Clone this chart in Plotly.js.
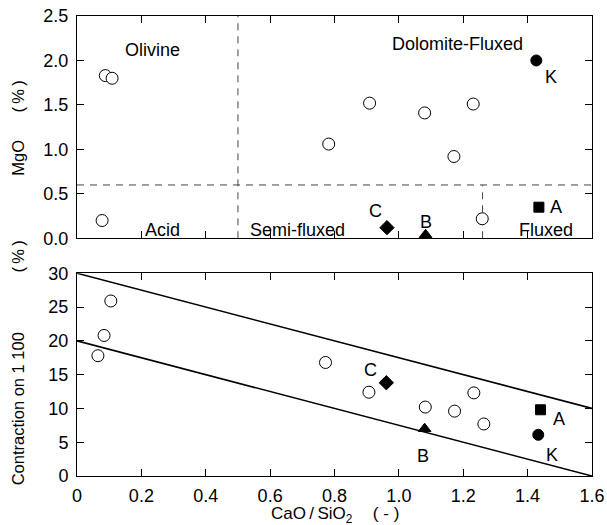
<!DOCTYPE html>
<html><head><meta charset="utf-8">
<script src="https://cdn.plot.ly/plotly-3.0.1.min.js"></script>
<style>html,body{margin:0;padding:0;background:#fff}</style>
</head><body><div id="chart" style="width:607px;height:525px"></div>
<script>
// ---- Top panel: MgO (%) vs CaO/SiO2 ----
const topOpenX = [0.078, 0.088, 0.109, 0.782, 0.909, 1.080, 1.171, 1.231, 1.259];
const topOpenY = [0.20, 1.83, 1.80, 1.06, 1.52, 1.41, 0.92, 1.51, 0.22];
const sampleNames = ['A', 'B', 'C', 'K'];
const topSampleX = [1.435, 1.083, 0.963, 1.427];
const topSampleY = [0.35, 0.04, 0.12, 2.00];

// boundary dashed lines (region limits)
const vDash1X = [0.5, 0.5],   vDash1Y = [0, 2.5];
const hDashX = [0, 1.6],      hDashY = [0.6, 0.6];
const vDash2X = [1.26, 1.26], vDash2Y = [0, 0.6];

const regionNames = ['Olivine', 'Dolomite-Fluxed', 'Acid', 'Semi-fluxed', 'Fluxed'];
const regionX = [0.235, 1.181, 0.266, 0.686, 1.457];
const regionY = [2.12, 2.18, 0.094, 0.094, 0.094];

// ---- Bottom panel: Contraction on 1 100 (%) vs CaO/SiO2 ----
const botOpenX = [0.065, 0.084, 0.105, 0.772, 0.907, 1.082, 1.173, 1.233, 1.264];
const botOpenY = [17.8, 20.8, 25.9, 16.8, 12.4, 10.2, 9.6, 12.3, 7.7];
const botSampleX = [1.440, 1.080, 0.961, 1.433];
const botSampleY = [9.8, 7.0, 13.8, 6.1];

const bandX = [0, 1.6];
const bandUpperY = [30, 10];
const bandLowerY = [20, 0];

const xTickVals = [0, 0.2, 0.4, 0.6, 0.8, 1.0, 1.2, 1.4, 1.6];
const xTickText = ['0', '0.2', '0.4', '0.6', '0.8', '1.0', '1.2', '1.4', '1.6'];

// ---- styles ----
const FONT = '"Liberation Sans", Arial, Helvetica, sans-serif';
const NB = '\u00a0';
const sampleSymbols = ['square', 'triangle-up', 'diamond', 'circle'];
const sampleSizes = [10, 11, 11, 11];
const topLabelShift = [[17, 0], [0, 13], [-11, 17], [15, -17]];
const botLabelShift = [[18, -9], [-2, -27], [-16, 13], [14, -20]];

const dashLine = {color: '#444', width: 1, dash: '7px,6px'};
const filledMarker = {symbol: sampleSymbols, size: sampleSizes, color: '#000', opacity: 1,
  line: {color: '#000', width: 1}};
const openMarker = {symbol: 'circle', size: 12, color: '#fff', opacity: 1, line: {color: '#000', width: 1}};
const traces = [
  {x: vDash1X, y: vDash1Y, xaxis: 'x2', yaxis: 'y2', mode: 'lines', line: dashLine},
  {x: hDashX, y: hDashY, xaxis: 'x2', yaxis: 'y2', mode: 'lines', line: dashLine},
  {x: vDash2X, y: vDash2Y, xaxis: 'x2', yaxis: 'y2', mode: 'lines', line: dashLine},
  {x: topOpenX, y: topOpenY, xaxis: 'x2', yaxis: 'y2', mode: 'markers', cliponaxis: false, marker: openMarker},
  {x: topSampleX, y: topSampleY, xaxis: 'x2', yaxis: 'y2', mode: 'markers', cliponaxis: false, marker: filledMarker},
  {x: bandX, y: bandUpperY, xaxis: 'x', yaxis: 'y', mode: 'lines', line: {color: '#000', width: 1.6}},
  {x: bandX, y: bandLowerY, xaxis: 'x', yaxis: 'y', mode: 'lines', line: {color: '#000', width: 1.6}},
  {x: botOpenX, y: botOpenY, xaxis: 'x', yaxis: 'y', mode: 'markers', cliponaxis: false, marker: openMarker},
  {x: botSampleX, y: botSampleY, xaxis: 'x', yaxis: 'y', mode: 'markers', cliponaxis: false, marker: filledMarker}
];

const annotations = [];
regionNames.forEach((t, i) => annotations.push({
  text: t, x: regionX[i], y: regionY[i], xref: 'x2', yref: 'y2', showarrow: false,
  font: {family: FONT, size: 18, color: '#000'}, xanchor: 'center', yanchor: 'middle'}));
sampleNames.forEach((t, i) => {
  annotations.push({text: t, x: topSampleX[i], y: topSampleY[i], xref: 'x2', yref: 'y2', showarrow: false,
    xshift: topLabelShift[i][0], yshift: topLabelShift[i][1],
    font: {family: FONT, size: 18, color: '#000'}, xanchor: 'center', yanchor: 'middle'});
  annotations.push({text: t, x: botSampleX[i], y: botSampleY[i], xref: 'x', yref: 'y', showarrow: false,
    xshift: botLabelShift[i][0], yshift: botLabelShift[i][1],
    font: {family: FONT, size: 18, color: '#000'}, xanchor: 'center', yanchor: 'middle'});
});
// axis titles
const pct = '(\u2009%\u2009)';
annotations.push({text: 'MgO' + NB.repeat(6) + pct, textangle: -90, xref: 'paper', yref: 'paper', x: 0, y: 0.757,
  xshift: -59, showarrow: false, xanchor: 'center', yanchor: 'middle', font: {family: FONT, size: 16.5, color: '#000'}});
annotations.push({text: 'Contraction on 1 100' + NB.repeat(13) + pct, textangle: -90, xref: 'paper', yref: 'paper', x: 0, y: 0.245,
  xshift: -59, showarrow: false, xanchor: 'center', yanchor: 'middle', font: {family: FONT, size: 16.5, color: '#000'}});
annotations.push({text: 'CaO\u2009/\u2009SiO<sub>2</sub>\u2003\u2009( - )', xref: 'paper', yref: 'paper', x: 0.5, y: 0,
  yshift: -39, showarrow: false, xanchor: 'center', yanchor: 'middle', font: {family: FONT, size: 17, color: '#000'}});

const axisBase = {showline: true, linecolor: '#000', linewidth: 1, mirror: 'ticks', ticks: 'inside',
  ticklen: 7, tickcolor: '#000', tickwidth: 1, showgrid: false, zeroline: false,
  tickfont: {family: FONT, size: 18, color: '#000'}};

const layout = {
  width: 607, height: 525, paper_bgcolor: '#fff', plot_bgcolor: '#fff', showlegend: false,
  margin: {l: 77, r: 15, t: 16, b: 49}, font: {family: FONT, color: '#000'},
  xaxis: Object.assign({}, axisBase, {domain: [0, 1], anchor: 'y', range: [0, 1.6],
    tickmode: 'array', tickvals: xTickVals, ticktext: xTickText, ticklabelstandoff: 3}),
  yaxis: Object.assign({}, axisBase, {domain: [0, 0.4407], anchor: 'x', range: [0, 30], dtick: 5, tick0: 0,
    ticklabelstandoff: 4}),
  xaxis2: Object.assign({}, axisBase, {domain: [0, 1], anchor: 'y2', range: [0, 1.6], matches: 'x',
    tickmode: 'array', tickvals: xTickVals, showticklabels: false}),
  yaxis2: Object.assign({}, axisBase, {domain: [0.5167, 1], anchor: 'x2', range: [0, 2.5], dtick: 0.5, tick0: 0,
    tickformat: '.1f', ticklabelstandoff: 4}),
  annotations: annotations
};

Plotly.newPlot('chart', traces, layout, {staticPlot: true, displayModeBar: false});
</script>
</body></html>
